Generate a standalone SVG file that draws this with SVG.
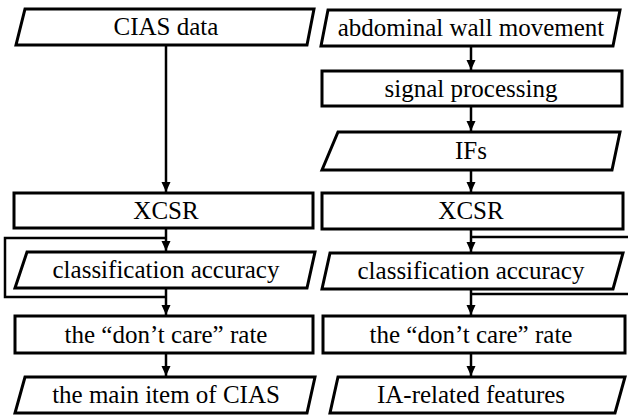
<svg xmlns="http://www.w3.org/2000/svg" width="628" height="417" viewBox="0 0 628 417" font-family="Liberation Serif, Times New Roman, serif">
<style>
.box{fill:#fff;stroke:#000;stroke-width:3;stroke-linejoin:miter}
.t{font-size:25px;fill:#000;text-anchor:middle}
.c{fill:none;stroke:#000;stroke-width:2.5}
</style>
<defs>
<marker id="ah" markerUnits="userSpaceOnUse" markerWidth="10" markerHeight="10" viewBox="0 0 10 10" refX="10" refY="5" orient="auto">
<path d="M0,0.5 L10,5 L0,9.5 Z" fill="#000"/>
</marker>
</defs>
<rect width="628" height="417" fill="#fff"/>
<g id="connectors">
<line class="c" x1="166" y1="45" x2="166" y2="192" marker-end="url(#ah)"/>
<line class="c" x1="166" y1="228" x2="166" y2="251" marker-end="url(#ah)"/>
<line class="c" x1="166" y1="288" x2="166" y2="315" marker-end="url(#ah)"/>
<line class="c" x1="166" y1="353" x2="166" y2="376" marker-end="url(#ah)"/>
<polyline class="c" points="166,238 5,238 5,297 166,297"/>
<line class="c" x1="471" y1="46" x2="471" y2="70" marker-end="url(#ah)"/>
<line class="c" x1="471" y1="106" x2="471" y2="131" marker-end="url(#ah)"/>
<line class="c" x1="471" y1="170" x2="471" y2="192" marker-end="url(#ah)"/>
<line class="c" x1="471" y1="229" x2="471" y2="252" marker-end="url(#ah)"/>
<line class="c" x1="471" y1="289" x2="471" y2="315" marker-end="url(#ah)"/>
<line class="c" x1="471" y1="353" x2="471" y2="376" marker-end="url(#ah)"/>
<line class="c" x1="471" y1="237" x2="630" y2="237"/>
<line class="c" x1="630" y1="294" x2="471" y2="294"/>
</g>
<g id="n1"><polygon class="box" points="25,9 314,9 307,45 16,45"/><text class="t" x="166" y="35" font-family="Liberation Serif, serif">CIAS data</text></g>
<g id="n2"><rect class="box" x="14" y="193" width="299" height="35"/><text class="t" x="166" y="219">XCSR</text></g>
<g id="n3"><polygon class="box" points="27,252 315,252 307,288 15,288"/><text class="t" x="166" y="278">classification accuracy</text></g>
<g id="n4"><rect class="box" x="15" y="316" width="298" height="37"/><text class="t" x="166" y="343">the “don’t care” rate</text></g>
<g id="n5"><polygon class="box" points="25,377 315,377 307,413 15,413"/><text class="t" x="166" y="403">the main item of CIAS</text></g>
<g id="n6"><polygon class="box" points="328,10 620,10 613,46 321,46"/><text class="t" x="471" y="36">abdominal wall movement</text></g>
<g id="n7"><rect class="box" x="322" y="71" width="300" height="35"/><text class="t" x="471" y="97">signal processing</text></g>
<g id="n8"><polygon class="box" points="338,132 620,132 612,170 322,170"/><text class="t" x="471" y="159">IFs</text></g>
<g id="n9"><rect class="box" x="322" y="193" width="301" height="36"/><text class="t" x="471" y="219">XCSR</text></g>
<g id="n10"><polygon class="box" points="330,253 623,253 613,289 322,289"/><text class="t" x="471" y="279">classification accuracy</text></g>
<g id="n11"><rect class="box" x="323" y="316" width="302" height="37"/><text class="t" x="471" y="343">the “don’t care” rate</text></g>
<g id="n12"><polygon class="box" points="338,377 625,377 615,413 330,413"/><text class="t" x="471" y="403">IA-related features</text></g>
</svg>
